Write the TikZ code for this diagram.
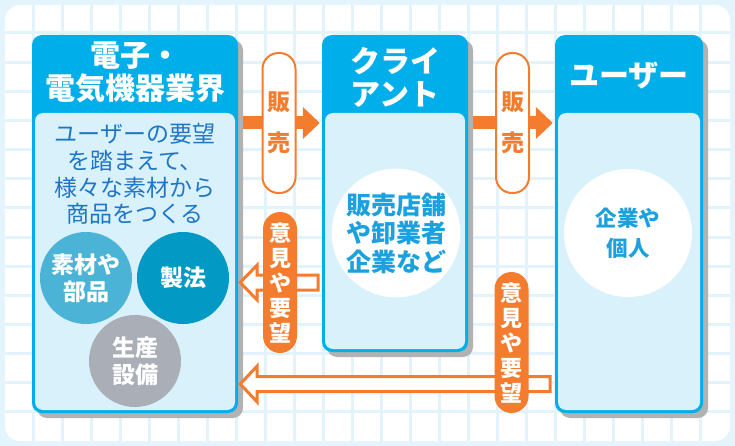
\documentclass[tikz,border=0pt]{standalone}
\usepackage{fontspec}
\setmainfont{Noto Sans CJK JP}
\usetikzlibrary{shadows,calc,arrows.meta}
\definecolor{bgc}{HTML}{E4F4FC}
\definecolor{gridc}{HTML}{E2F3FB}
\definecolor{hdrblue}{HTML}{00AEEA}
\definecolor{innerc}{HTML}{D9F1FB}
\definecolor{shadowc}{HTML}{B2B2B2}
\definecolor{orng}{HTML}{F47C2F}
\definecolor{bodyblue}{HTML}{1F76C6}
\definecolor{circtxt}{HTML}{1BA1DD}
\definecolor{cA}{HTML}{4BB4D6}
\definecolor{cB}{HTML}{0399C5}
\definecolor{cC}{HTML}{A9AEB7}
\tikzset{
  gridline/.style={gridc, line width=3},
  box/.style={fill=hdrblue, rounded corners=10, inner sep=0, draw=none,
    drop shadow={shadow xshift=5pt, shadow yshift=-5pt, fill=shadowc, opacity=1}},
  innerarea/.style={fill=innerc, rounded corners=8},
  head/.style={text=white, align=center, font=\fontsize{30}{33}\selectfont\bfseries},
  bodytext/.style={text=bodyblue, align=center, font=\fontsize{23}{26.7}\selectfont},
  whitecirc/.style={circle, fill=white, minimum size=128, inner sep=0, text=circtxt, align=center},
  smallcirc/.style={circle, minimum size=92, inner sep=0, text=white, align=center,
    font=\fontsize{23}{27}\selectfont\bfseries},
  salepill/.style={draw=orng, line width=2, fill=white, rounded corners=16, minimum width=33,
    minimum height=140, inner sep=0, text=orng, align=center, font=\fontsize{23}{41}\selectfont\bfseries},
  fbpill/.style={fill=orng, rounded corners=17, minimum width=34, minimum height=141,
    inner sep=0, text=white, align=center, font=\fontsize{22}{25}\selectfont\bfseries},
  salearrow/.style={orng, line width=13, -{Triangle[length=17pt,width=31pt]}, shorten >=2},
  fbarrow/.style={draw=orng, line width=3, fill=white, line join=miter}
}
\begin{document}
\begin{tikzpicture}[x=1pt,y=-1pt]
\useasboundingbox (0,0) rectangle (735,446);
\fill[bgc] (0,0) rectangle (735,446);
\fill[white, rounded corners=15] (5,5) rectangle (730,441);
\begin{scope}
  \clip[rounded corners=15] (5,5) rectangle (730,441);
  \foreach \i in {0,...,23} \draw[gridline] ({33+29*\i},5) -- ({33+29*\i},441);
  \foreach \j in {0,...,13} \draw[gridline] (5,{33+29.15*\j}) -- (730,{33+29.15*\j});
\end{scope}

% sale pill centres (used by the arrows)
\coordinate (s1c) at (279,123);
\coordinate (s2c) at (512.5,123);

% boxes
\node[box, minimum width=206, minimum height=378] (b1) at (135,224) {};
\node[box, minimum width=146, minimum height=317] (b2) at (395,193.5) {};
\node[box, minimum width=148, minimum height=378] (b3) at (629,224) {};

% sale arrows
\draw[salearrow] ($(b1.east |- s1c)+(5,0)$) -- (b2.west |- s1c);
\draw[salearrow] ($(b2.east |- s2c)+(5,0)$) -- (b3.west |- s2c);

\fill[innerarea] (35,113) rectangle (235,410);
\fill[innerarea] (325,113) rectangle (465,349);
\fill[innerarea] (558,113) rectangle (700,410);

% headers
\node[head] (h1) at (135,72) {電子・\\電気機器業界};
\node[head] (h2) at (395,77) {クライ\\アント};
\node[head] (h3) at (629,76) {ユーザー};

% box 1 contents
\node[bodytext] (t1) at (135,174) {ユーザーの要望\\を踏まえて、\\様々な素材から\\商品をつくる};
\node[smallcirc, fill=cA] (c1) at (86,278) {素材や\\部品};
\node[smallcirc, fill=cB] (c2) at (183,278) {製法};
\node[smallcirc, fill=cC] (c3) at (135,361) {生産\\設備};

% box 2 / 3 circles
\node[whitecirc, font=\fontsize{25}{28.5}\selectfont\bfseries] (w2) at (396,233) {販売店舗\\や卸業者\\企業など};
\node[whitecirc, font=\fontsize{21.5}{30}\selectfont\bfseries] (w3) at (628,233) {企業や\\個人};

% sale pills
\node[salepill] (s1) at (s1c) {販\\売};
\node[salepill] (s2) at (s2c) {販\\売};

% feedback arrows
\coordinate (f1tip) at ($(b1.east |- 0,282.5)+(2,0)$);
\draw[fbarrow] (f1tip) -- ++(17,-17.5) -- ++(0,10) -- ++(61,0) -- ++(0,15) -- ++(-61,0) -- ++(0,10) -- cycle;
\coordinate (f2tip) at ($(b1.east |- 0,384)+(2,0)$);
\draw[fbarrow] (f2tip) -- ++(17,-18) -- ++(0,10.5) -- ++(293,0) -- ++(0,15) -- ++(-293,0) -- ++(0,10.5) -- cycle;

\node[fbpill] (p1) at (280,282.5) {意\\見\\や\\要\\望};
\node[fbpill] (p2) at (511.5,342.5) {意\\見\\や\\要\\望};
\end{tikzpicture}
\end{document}
